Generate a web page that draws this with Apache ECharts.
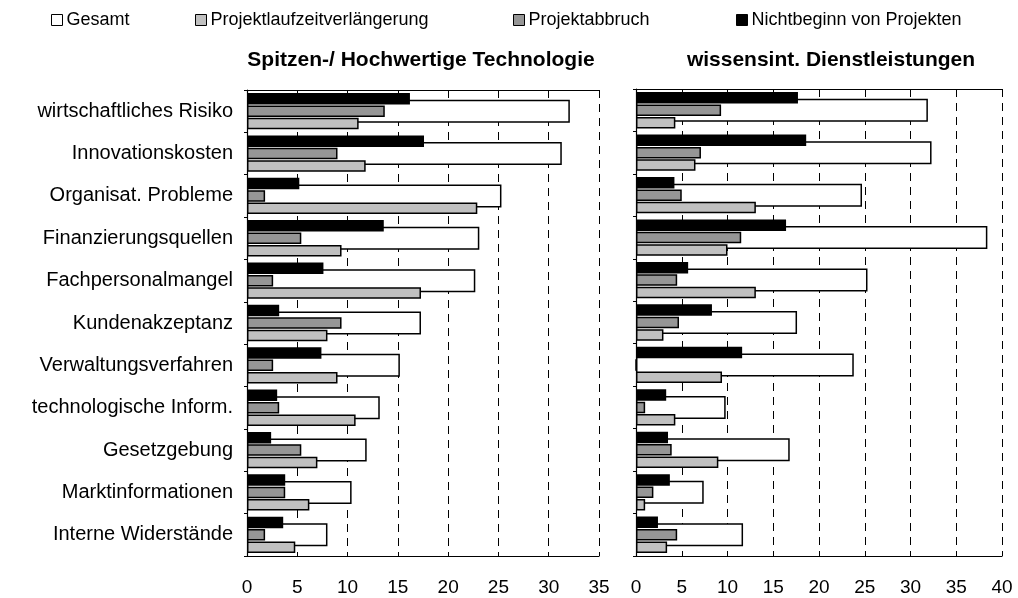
<!DOCTYPE html>
<html>
<head>
<meta charset="utf-8">
<script src="https://cdn.jsdelivr.net/npm/echarts@6/dist/echarts.min.js"></script>
<style>
  html, body { margin: 0; padding: 0; background: #fff; }
  #chart { width: 1018px; height: 598px; }
</style>
</head>
<body>
<div id="chart"></div>
<script>
// Innovationshemmnisse: Anteil der Unternehmen (%) nach Auswirkung
const categories = [
  'wirtschaftliches Risiko', 'Innovationskosten', 'Organisat. Probleme',
  'Finanzierungsquellen', 'Fachpersonalmangel', 'Kundenakzeptanz',
  'Verwaltungsverfahren', 'technologische Inform.', 'Gesetzgebung',
  'Marktinformationen', 'Interne Widerstände'
];

// Spitzen-/ Hochwertige Technologie
const gesamtHT      = [32.1, 31.3, 25.3, 23.1, 22.7, 17.3, 15.2, 13.2, 11.9, 10.4, 8.0];
const laufzeitHT    = [11.1, 11.8, 22.9, 9.4, 17.3, 8.0, 9.0, 10.8, 7.0, 6.2, 4.8];
const abbruchHT     = [13.7, 9.0, 1.8, 5.4, 2.6, 9.4, 2.6, 3.2, 5.4, 3.8, 1.8];
const nichtbeginnHT = [16.2, 17.6, 5.2, 13.6, 7.6, 3.2, 7.4, 3.0, 2.4, 3.8, 3.6];

// wissensintensive Dienstleistungen
const gesamtWD      = [31.9, 32.3, 24.7, 38.4, 25.3, 17.6, 23.8, 9.8, 16.8, 7.4, 11.7];
const laufzeitWD    = [4.3, 6.5, 13.1, 10.0, 13.1, 3.0, 9.4, 4.3, 9.0, 1.0, 3.4];
const abbruchWD     = [9.3, 7.1, 5.0, 11.5, 4.5, 4.7, 0, 1.0, 3.9, 1.9, 4.5];
const nichtbeginnWD = [17.7, 18.6, 4.2, 16.4, 5.7, 8.3, 11.6, 3.3, 3.5, 3.7, 2.4];

const panelTitles = ['Spitzen-/ Hochwertige Technologie', 'wissensint. Dienstleistungen'];
const seriesNames = ['Gesamt', 'Projektlaufzeitverlängerung', 'Projektabbruch', 'Nichtbeginn von Projekten'];
const seriesColors = ['#ffffff', '#c0c0c0', '#969696', '#000000'];

const FONT = '"Liberation Sans", Arial, sans-serif';

const chart = echarts.init(document.getElementById('chart'), null, { renderer: 'canvas' });

function valueAxis(gridIndex, max, position) {
  const bottom = position === 'bottom';
  return {
    type: 'value', gridIndex, min: 0, max, interval: 5, position,
    axisLine: { show: true, onZero: false, lineStyle: { color: '#000', width: 1.2 } },
    axisTick: { show: false },
    axisLabel: bottom
      ? { show: true, color: '#000', fontFamily: FONT, fontSize: 19, margin: 22 }
      : { show: false },
    splitLine: bottom
      ? { show: true, lineStyle: { color: '#000', width: 1, type: [8, 6] } }
      : { show: false }
  };
}

function categoryAxis(gridIndex, showLabels, visible) {
  return {
    type: 'category', gridIndex, data: categories, inverse: true, show: visible,
    axisLine: { show: true, lineStyle: { color: '#000', width: 1.2 } },
    axisTick: { show: true, length: 3, lineStyle: { color: '#000' } },
    axisLabel: {
      show: showLabels, color: '#000', fontFamily: FONT, fontSize: 20, margin: 14
    },
    splitLine: { show: false }
  };
}

function barSeries(nameIdx, data, xIdx, yIdx, width, z) {
  return {
    type: 'bar', name: seriesNames[nameIdx], data,
    xAxisIndex: xIdx, yAxisIndex: yIdx,
    barWidth: width, barGap: '8%', z,
    itemStyle: { color: seriesColors[nameIdx], borderColor: '#000', borderWidth: 1.5 },
    emphasis: { disabled: true },
    animation: false
  };
}

function legendAt(left, idx) {
  return {
    left, top: 6, itemWidth: 11, itemHeight: 11, itemGap: 0,
    data: [{ name: seriesNames[idx], icon: 'rect' }],
    textStyle: { color: '#000', fontFamily: FONT, fontSize: 18, padding: [0, 0, 0, -1] },
    itemStyle: { borderColor: '#000', borderWidth: 1 },
    selectedMode: false
  };
}

const option = {
  backgroundColor: '#fff',
  animation: false,
  textStyle: { fontFamily: FONT },
  title: [
    { text: panelTitles[0], left: 416, top: 45, textAlign: 'center',
      textStyle: { fontFamily: FONT, fontSize: 21, fontWeight: 'bold', color: '#000' } },
    { text: panelTitles[1], left: 826, top: 45, textAlign: 'center',
      textStyle: { fontFamily: FONT, fontSize: 21, fontWeight: 'bold', color: '#000' } }
  ],
  legend: [legendAt(46, 0), legendAt(190, 1), legendAt(508, 2), legendAt(731, 3)],
  grid: [
    { left: 247, top: 90, width: 352, height: 466 },
    { left: 636, top: 89, width: 366, height: 467 }
  ],
  xAxis: [
    valueAxis(0, 35, 'bottom'),
    valueAxis(1, 40, 'bottom'),
    valueAxis(0, 35, 'top'),
    valueAxis(1, 40, 'top')
  ],
  yAxis: [
    categoryAxis(0, true, true),
    categoryAxis(0, false, false),
    categoryAxis(1, false, true),
    categoryAxis(1, false, false)
  ],
  series: [
    // wide "Gesamt" bars behind the detailed bars
    barSeries(0, gesamtHT, 0, 1, 23, 1),
    barSeries(0, gesamtWD, 1, 3, 23, 1),
    // detailed bars, three per category
    barSeries(3, nichtbeginnHT, 0, 0, 11.5, 3),
    barSeries(2, abbruchHT, 0, 0, 11.5, 3),
    barSeries(1, laufzeitHT, 0, 0, 11.5, 3),
    barSeries(3, nichtbeginnWD, 1, 2, 11.5, 3),
    barSeries(2, abbruchWD, 1, 2, 11.5, 3),
    barSeries(1, laufzeitWD, 1, 2, 11.5, 3)
  ]
};

chart.setOption(option);
</script>
</body>
</html>
